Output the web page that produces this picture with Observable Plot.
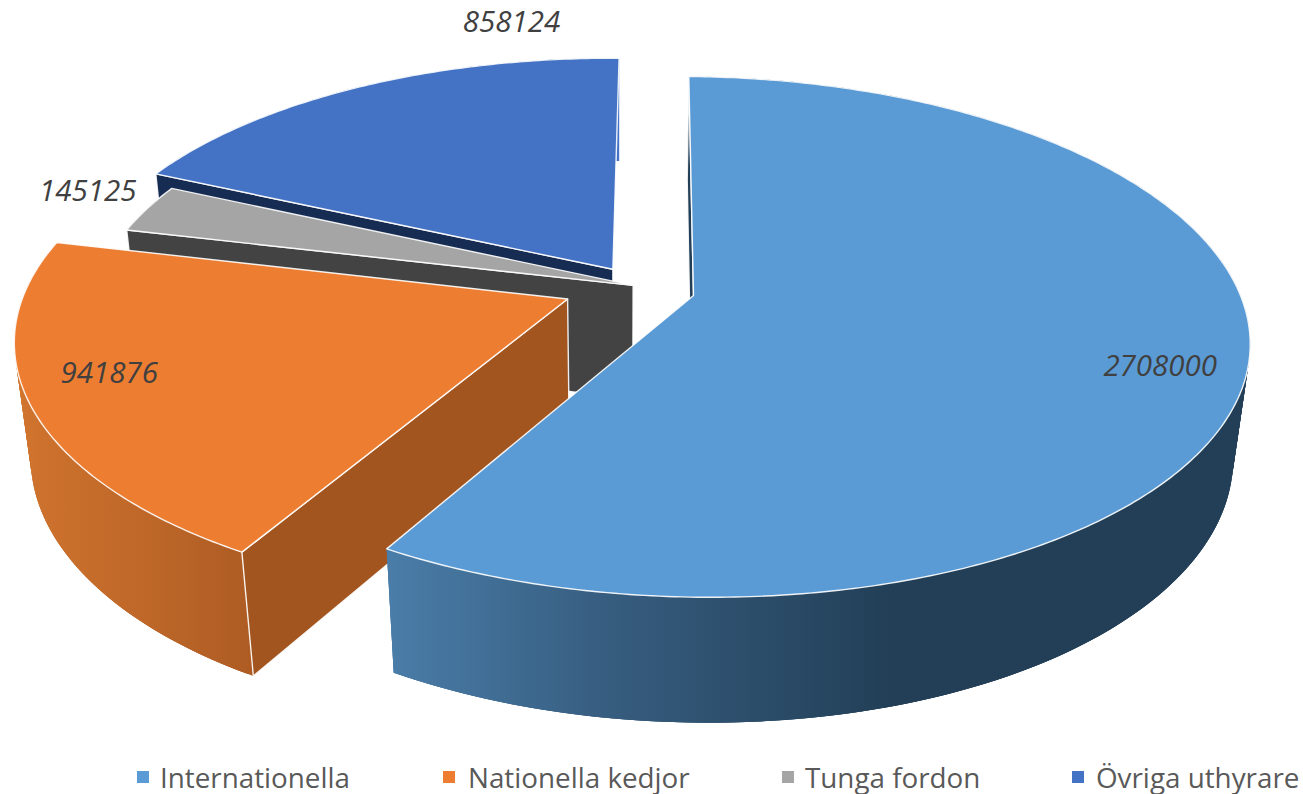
<!DOCTYPE html>
<html><head><meta charset="utf-8">
<script src="https://cdn.jsdelivr.net/npm/d3@7"></script>
<script src="https://cdn.jsdelivr.net/npm/@observablehq/plot@0.6"></script>
<style>
html,body{margin:0;padding:0;background:#fff;overflow:hidden}
#chart svg{display:block}
#legend{position:relative;height:34px;width:1303px;font-family:"Open Sans",sans-serif;font-size:27.8px;color:#595959;line-height:34px}
#legend i{position:absolute;top:11px;width:12px;height:12px}
#legend span{position:absolute;top:0;white-space:nowrap}
</style></head><body>
<div id="chart"></div><div id="legend"></div>
<script>
const categories = ["Internationella","Nationella kedjor","Tunga fordon","Övriga uthyrare"];
const values = [2708000,941876,145125,858124];
const colors = ["#5B9BD5","#ED7D31","#A5A5A5","#4472C4"];
const wallColors = ["#223F57","#A2551F","#434343","#172C52"];
// how far each slice is pulled out of the pie, in units of the pie radius (across, depth)
const pullAcross = [0,-0.23,-0.11,-0.147];
const pullDepth = [0,0.014,-0.04,-0.105];
const radii = [1,0.995,0.99,0.993];
// data label placement: radius fraction, degrees past the slice's middle
const labelRadius = [0.853,0.844,1.135,1.213];
const labelTurn = [2.65,3.65,1.6,21.8];
const legendSwatchLeft = [137,443,782,1072];
const legendTextLeft = [160,468,805,1096];
const firstAngle = 1;

const W = 1303, H = 760;
// perspective view of the tilted pie
const view = {cx:693, cy:295, fx:547, fy:253.8, tilt:0.159, shear:15, sink:0.027, shiftBottom:-2, drop:117};
function project(u,v,bottom){
  const d = 1 - view.tilt*v + (bottom?view.sink:0);
  return {x: view.cx + (view.fx*u + view.shear*v + (bottom?view.shiftBottom:0))/d,
          y: view.cy + (view.fy*v + (bottom?view.drop:0))/d};
}
const rad = a => a*Math.PI/180;
const dirAt = a => [Math.sin(rad(a)), -Math.cos(rad(a))];
const total = d3.sum(values);
let acc = firstAngle;
const slices = categories.map((name,i)=>{
  const a0 = acc, a1 = acc + values[i]/total*360; acc = a1;
  return {name,i,a0,a1,mid:(a0+a1)/2,u:pullAcross[i],v:pullDepth[i],r:radii[i]};
});
function arc(s,bottom){
  const n = Math.max(8,Math.ceil((s.a1-s.a0)*1.5)), pts=[];
  for(let k=0;k<=n;k++){
    const a = s.a0+(s.a1-s.a0)*k/n, [du,dv]=dirAt(a);
    pts.push(project(s.u+s.r*du,s.v+s.r*dv,bottom));
  }
  return pts;
}
// the curved outside of a slice as overlapping facets, so the folded side fills solid without seams
function facets(s){
  const t=arc(s,false), b=arc(s,true), rows=[];
  for(let k=0;k<t.length-1;k++){
    const e=Math.min(k+3,t.length-1);
    for(const p of [t[k],t[e],b[e],b[k]]) rows.push({...p,k});
  }
  return rows;
}
function radial(s,a){
  const [du,dv]=dirAt(a);
  const o=[s.u+s.r*du,s.v+s.r*dv];
  return [project(s.u,s.v,false),project(o[0],o[1],false),project(o[0],o[1],true),project(s.u,s.v,true)];
}
const poly=(pts,fill,opts={})=>Plot.line(pts,{x:"x",y:"y",curve:"linear-closed",fill,stroke:"#fff",strokeWidth:1.4,strokeOpacity:.9,...opts});
const outerFill=["url(#wallBlue)","url(#wallOrange)",wallColors[2],colors[3]];
const marks=[];
const defs=()=>{
  const s=d3.create("svg:defs");
  const g=(id,x1,x2,stops)=>{
    const l=s.append("linearGradient").attr("id",id).attr("gradientUnits","userSpaceOnUse")
      .attr("x1",x1).attr("x2",x2).attr("y1",0).attr("y2",0);
    stops.forEach(([o,c])=>l.append("stop").attr("offset",o).attr("stop-color",c));
  };
  g("wallBlue",386,890,[[0,"#4A7DA9"],[0.45,"#365C7E"],[1,"#223F57"]]);
  g("wallOrange",20,250,[[0,"#D0742E"],[1,"#AE5C24"]]);
  return s.node();
};
marks.push(defs);
for(const i of [3,2,1,0]){
  const s=slices[i];
  marks.push(poly(facets(s),outerFill[i],{z:"k",stroke:"none"}));
  marks.push(poly(radial(s,s.a0),wallColors[i]));
  marks.push(poly([...arc(s,false),project(s.u,s.v,false)],colors[i]));
}
const labels=slices.map((s,i)=>{
  const [du,dv]=dirAt(s.mid+labelTurn[i]);
  return {...project(s.u+labelRadius[i]*du,s.v+labelRadius[i]*dv,false),text:String(values[i])};
});
marks.push(Plot.text(labels,{x:"x",y:"y",text:"text",fontSize:29.5,fontStyle:"italic",fontFamily:"Open Sans",fill:"#404040"}));
const chart=Plot.plot({width:W,height:H,margin:0,style:{background:"#fff"},
  x:{domain:[0,W],range:[0,W],axis:null},y:{domain:[0,H],range:[0,H],axis:null},marks});
document.getElementById("chart").append(chart);
const leg=d3.select("#legend");
categories.forEach((c,i)=>{
  leg.append("i").style("left",legendSwatchLeft[i]+"px").style("background",colors[i]);
  leg.append("span").style("left",legendTextLeft[i]+"px").text(c);
});
</script></body></html>
